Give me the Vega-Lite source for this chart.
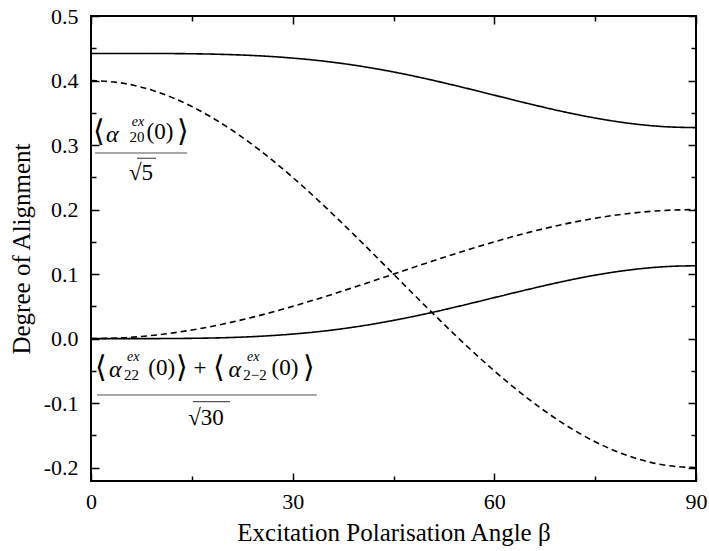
{
  "$schema": "https://vega.github.io/schema/vega-lite/v6.json",
  "width": 605,
  "height": 465,
  "autosize": {"type": "none"},
  "padding": {"left": 91, "top": 16, "right": 13, "bottom": 70},
  "config": {
    "view": {"stroke": "black", "strokeWidth": 2},
    "font": "Liberation Serif",
    "axis": {"domain": false, "grid": false, "tickColor": "black", "tickWidth": 1.5, "labelColor": "black", "titleColor": "black", "labelFontSize": 22, "titleFontSize": 25, "titleFontWeight": "normal", "labelFont": "Liberation Serif", "titleFont": "Liberation Serif"}
  },
  "datasets": {
    "curves": [
      {"beta": 0, "value": 0.442, "curve": "s1"}, {"beta": 5, "value": 0.442, "curve": "s1"}, {"beta": 10, "value": 0.4419, "curve": "s1"}, {"beta": 15, "value": 0.4415, "curve": "s1"}, {"beta": 20, "value": 0.4404, "curve": "s1"}, {"beta": 25, "value": 0.4383, "curve": "s1"}, {"beta": 30, "value": 0.4348, "curve": "s1"}, {"beta": 35, "value": 0.4296, "curve": "s1"}, {"beta": 40, "value": 0.4224, "curve": "s1"}, {"beta": 45, "value": 0.4133, "curve": "s1"}, {"beta": 50, "value": 0.4024, "curve": "s1"}, {"beta": 55, "value": 0.3902, "curve": "s1"}, {"beta": 60, "value": 0.3773, "curve": "s1"}, {"beta": 65, "value": 0.3644, "curve": "s1"}, {"beta": 70, "value": 0.3523, "curve": "s1"}, {"beta": 75, "value": 0.3419, "curve": "s1"}, {"beta": 80, "value": 0.3338, "curve": "s1"}, {"beta": 85, "value": 0.3287, "curve": "s1"}, {"beta": 90, "value": 0.327, "curve": "s1"},
      {"beta": 0, "value": 0, "curve": "s2"}, {"beta": 5, "value": 0.00001, "curve": "s2"}, {"beta": 10, "value": 0.0001, "curve": "s2"}, {"beta": 15, "value": 0.0005, "curve": "s2"}, {"beta": 20, "value": 0.0015, "curve": "s2"}, {"beta": 25, "value": 0.0036, "curve": "s2"}, {"beta": 30, "value": 0.0071, "curve": "s2"}, {"beta": 35, "value": 0.0122, "curve": "s2"}, {"beta": 40, "value": 0.0193, "curve": "s2"}, {"beta": 45, "value": 0.0283, "curve": "s2"}, {"beta": 50, "value": 0.0389, "curve": "s2"}, {"beta": 55, "value": 0.0509, "curve": "s2"}, {"beta": 60, "value": 0.0636, "curve": "s2"}, {"beta": 65, "value": 0.0762, "curve": "s2"}, {"beta": 70, "value": 0.0881, "curve": "s2"}, {"beta": 75, "value": 0.0984, "curve": "s2"}, {"beta": 80, "value": 0.1063, "curve": "s2"}, {"beta": 85, "value": 0.1113, "curve": "s2"}, {"beta": 90, "value": 0.113, "curve": "s2"},
      {"beta": 0, "value": 0.4, "curve": "d1"}, {"beta": 5, "value": 0.3954, "curve": "d1"}, {"beta": 10, "value": 0.3819, "curve": "d1"}, {"beta": 15, "value": 0.3598, "curve": "d1"}, {"beta": 20, "value": 0.3298, "curve": "d1"}, {"beta": 25, "value": 0.2928, "curve": "d1"}, {"beta": 30, "value": 0.25, "curve": "d1"}, {"beta": 35, "value": 0.2026, "curve": "d1"}, {"beta": 40, "value": 0.1521, "curve": "d1"}, {"beta": 45, "value": 0.1, "curve": "d1"}, {"beta": 50, "value": 0.0479, "curve": "d1"}, {"beta": 55, "value": -0.0026, "curve": "d1"}, {"beta": 60, "value": -0.05, "curve": "d1"}, {"beta": 65, "value": -0.0928, "curve": "d1"}, {"beta": 70, "value": -0.1298, "curve": "d1"}, {"beta": 75, "value": -0.1598, "curve": "d1"}, {"beta": 80, "value": -0.1819, "curve": "d1"}, {"beta": 85, "value": -0.1954, "curve": "d1"}, {"beta": 90, "value": -0.2, "curve": "d1"},
      {"beta": 0, "value": 0, "curve": "d2"}, {"beta": 5, "value": 0.0015, "curve": "d2"}, {"beta": 10, "value": 0.006, "curve": "d2"}, {"beta": 15, "value": 0.0134, "curve": "d2"}, {"beta": 20, "value": 0.0234, "curve": "d2"}, {"beta": 25, "value": 0.0357, "curve": "d2"}, {"beta": 30, "value": 0.05, "curve": "d2"}, {"beta": 35, "value": 0.0658, "curve": "d2"}, {"beta": 40, "value": 0.0826, "curve": "d2"}, {"beta": 45, "value": 0.1, "curve": "d2"}, {"beta": 50, "value": 0.1174, "curve": "d2"}, {"beta": 55, "value": 0.1342, "curve": "d2"}, {"beta": 60, "value": 0.15, "curve": "d2"}, {"beta": 65, "value": 0.1643, "curve": "d2"}, {"beta": 70, "value": 0.1766, "curve": "d2"}, {"beta": 75, "value": 0.1866, "curve": "d2"}, {"beta": 80, "value": 0.194, "curve": "d2"}, {"beta": 85, "value": 0.1985, "curve": "d2"}, {"beta": 90, "value": 0.2, "curve": "d2"}
    ],
    "brackets": [
      {"beta": 1.2, "value": 0.320, "t": "⟨"}, {"beta": 13.7, "value": 0.320, "t": "⟩"},
      {"beta": 1.45, "value": -0.0455, "t": "⟨"}, {"beta": 13.6, "value": -0.0455, "t": "⟩"},
      {"beta": 19.0, "value": -0.0455, "t": "⟨"}, {"beta": 32.4, "value": -0.0455, "t": "⟩"}
    ],
    "greek": [
      {"beta": 3.15, "value": 0.316, "t": "α"},
      {"beta": 3.6, "value": -0.049, "t": "α"},
      {"beta": 21.4, "value": -0.049, "t": "α"}
    ],
    "upright": [
      {"beta": 10.26, "value": 0.320, "t": "(0)"},
      {"beta": 10.52, "value": -0.0455, "t": "(0)"},
      {"beta": 28.86, "value": -0.0455, "t": "(0)"},
      {"beta": 16.22, "value": -0.0455, "t": "+"},
      {"beta": 7.44, "value": 0.2567, "t": "√5"},
      {"beta": 17.1, "value": -0.123, "t": "√30"}
    ],
    "sub": [
      {"beta": 6.84, "value": 0.3125, "t": "20"},
      {"beta": 6.04, "value": -0.0563, "t": "22"},
      {"beta": 24.4, "value": -0.0563, "t": "2−2"}
    ],
    "sup": [
      {"beta": 6.99, "value": 0.3357, "t": "ex"},
      {"beta": 6.29, "value": -0.028, "t": "ex"},
      {"beta": 24.15, "value": -0.028, "t": "ex"}
    ],
    "bars": [
      {"beta": 0.6, "beta2": 14.3, "value": 0.2877, "kind": "frac"},
      {"beta": 0.9, "beta2": 33.6, "value": -0.0873, "kind": "frac"},
      {"beta": 6.84, "beta2": 9.67, "value": 0.2795, "kind": "root"},
      {"beta": 15.17, "beta2": 20.68, "value": -0.0977, "kind": "root"}
    ]
  },
  "layer": [
    {
      "data": {"name": "curves"},
      "mark": {"type": "line", "interpolate": "monotone", "strokeWidth": 1.6, "color": "black"},
      "encoding": {
        "x": {"field": "beta", "type": "quantitative", "scale": {"domain": [0, 90], "nice": false, "zero": false},
          "axis": {"orient": "bottom", "values": [0, 15, 30, 45, 60, 75, 90], "labelExpr": "datum.value % 30 === 0 ? datum.label : ''", "tickSize": {"condition": {"test": "datum.value % 30 === 0", "value": -8}, "value": -5}, "labelPadding": 18, "labelFlush": false, "title": "Excitation Polarisation Angle β", "titlePadding": 8}},
        "y": {"field": "value", "type": "quantitative", "scale": {"domain": [-0.2206, 0.5], "nice": false, "zero": false},
          "axis": {"orient": "left", "values": [-0.2, -0.15, -0.1, -0.05, 0, 0.05, 0.1, 0.15, 0.2, 0.25, 0.3, 0.35, 0.4, 0.45, 0.5], "labelExpr": "abs(round(datum.value*100)) % 10 === 0 ? replace(format(datum.value, '.1f'), '−', '-') : ''", "tickSize": {"condition": {"test": "abs(round(datum.value*100)) % 10 === 0", "value": -8}, "value": -5}, "labelPadding": 21, "labelFlush": false, "title": "Degree of Alignment", "titlePadding": 9}},
        "detail": {"field": "curve"},
        "strokeDash": {"field": "curve", "type": "nominal", "scale": {"domain": ["s1", "s2", "d1", "d2"], "range": [[1, 0], [1, 0], [6, 4], [6, 4]]}, "legend": null}
      }
    },
    {
      "data": {"name": "curves"},
      "mark": {"type": "point", "opacity": 0},
      "encoding": {
        "x": {"field": "beta", "type": "quantitative", "axis": {"orient": "top", "values": [0, 15, 30, 45, 60, 75, 90], "labels": false, "title": null, "tickSize": {"condition": {"test": "datum.value % 30 === 0", "value": -8}, "value": -5}}},
        "y": {"field": "value", "type": "quantitative", "axis": {"orient": "right", "values": [-0.2, -0.15, -0.1, -0.05, 0, 0.05, 0.1, 0.15, 0.2, 0.25, 0.3, 0.35, 0.4, 0.45, 0.5], "labels": false, "title": null, "tickSize": {"condition": {"test": "abs(round(datum.value*100)) % 10 === 0", "value": -8}, "value": -5}}}
      }
    },
    {
      "data": {"name": "bars"},
      "mark": {"type": "rule", "color": "#555", "strokeWidth": 1.2},
      "encoding": {
        "x": {"field": "beta", "type": "quantitative", "axis": null},
        "x2": {"field": "beta2"},
        "y": {"field": "value", "type": "quantitative", "axis": null}
      }
    },
    {
      "data": {"name": "brackets"},
      "mark": {"type": "text", "font": "DejaVu Sans", "fontSize": 30, "fontWeight": 200, "align": "center", "baseline": "middle", "color": "black"},
      "encoding": {
        "x": {"field": "beta", "type": "quantitative", "axis": null},
        "y": {"field": "value", "type": "quantitative", "axis": null},
        "text": {"field": "t"}
      }
    },
    {
      "data": {"name": "greek"},
      "mark": {"type": "text", "font": "Liberation Serif", "fontSize": 24, "fontStyle": "italic", "align": "center", "baseline": "middle", "color": "black"},
      "encoding": {
        "x": {"field": "beta", "type": "quantitative", "axis": null},
        "y": {"field": "value", "type": "quantitative", "axis": null},
        "text": {"field": "t"}
      }
    },
    {
      "data": {"name": "upright"},
      "mark": {"type": "text", "font": "Liberation Serif", "fontSize": 23, "align": "center", "baseline": "middle", "color": "black"},
      "encoding": {
        "x": {"field": "beta", "type": "quantitative", "axis": null},
        "y": {"field": "value", "type": "quantitative", "axis": null},
        "text": {"field": "t"}
      }
    },
    {
      "data": {"name": "sub"},
      "mark": {"type": "text", "font": "Liberation Serif", "fontSize": 15, "align": "center", "baseline": "middle", "color": "black"},
      "encoding": {
        "x": {"field": "beta", "type": "quantitative", "axis": null},
        "y": {"field": "value", "type": "quantitative", "axis": null},
        "text": {"field": "t"}
      }
    },
    {
      "data": {"name": "sup"},
      "mark": {"type": "text", "font": "Liberation Serif", "fontSize": 14, "fontStyle": "italic", "align": "center", "baseline": "middle", "color": "black"},
      "encoding": {
        "x": {"field": "beta", "type": "quantitative", "axis": null},
        "y": {"field": "value", "type": "quantitative", "axis": null},
        "text": {"field": "t"}
      }
    }
  ],
  "resolve": {"axis": {"x": "independent", "y": "independent"}}
}
